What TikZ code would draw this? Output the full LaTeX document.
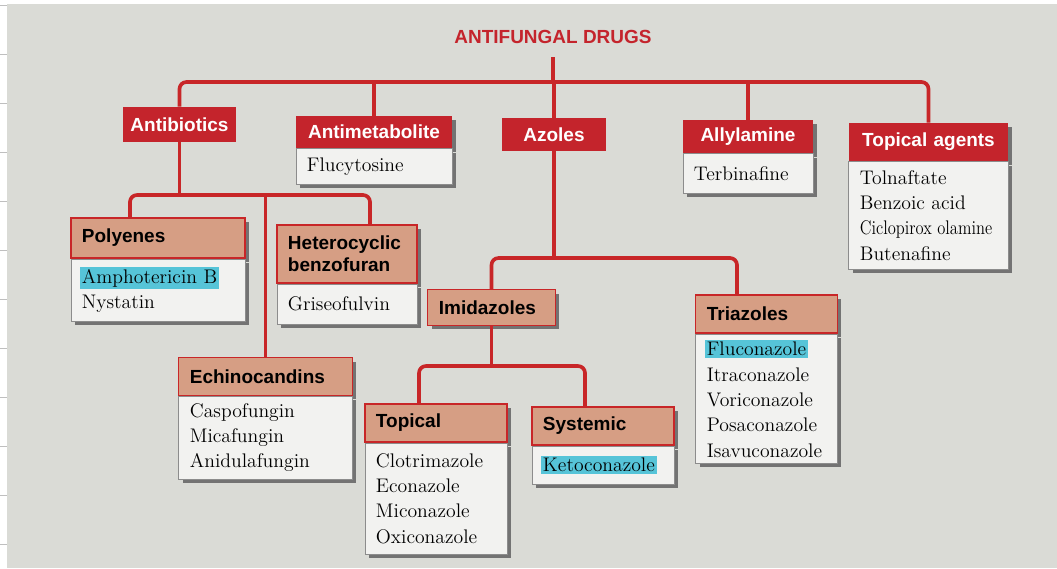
\documentclass[tikz,border=0pt]{standalone}
\usepackage{fontspec}
\setsansfont{Liberation Sans}
\usepackage{graphicx}
\usetikzlibrary{shadows}
\definecolor{paper}{RGB}{218,219,214}
\definecolor{drugred}{RGB}{196,36,44}
\definecolor{linered}{RGB}{200,38,40}
\definecolor{salmon}{RGB}{214,158,132}
\definecolor{card}{RGB}{242,242,240}
\definecolor{marker}{RGB}{86,196,216}
\newcommand{\marked}[1]{{\setlength{\fboxsep}{1.5pt}\hspace*{-1.5pt}\colorbox{marker}{#1}}}
\tikzset{ %inner sep = 0,
  {tree/.style} ={draw=linered,line width=2.6pt,rounded corners=5pt},
  {heading/.style} ={text=drugred,font=\sffamily\bfseries\fontsize{13.5}{15}\selectfont},
  {group/.style} ={fill=drugred,text=white,inner sep=0,
                  font=\sffamily\bfseries\fontsize{13.5}{15.5}\selectfont},
  {cast/.style} ={drop shadow={shadow xshift=0.1cm,shadow yshift=-0.1cm,
                  fill=black!55,opacity=1}},
  {head/.style} ={group,cast,inner xsep=0.275cm,align=center},
  {class/.style} ={head,fill=salmon,text=black,draw=linered,line width=.8pt,
                  align=left},
  {drugs/.style} ={cast,fill=card,draw=black!45,line width=.6pt,anchor=north,
                  inner xsep=0.275cm,inner ysep=0,align=left,
                  font=\fontsize{14}{18}\selectfont},
}

\begin{document}
\begin{tikzpicture}[x=0.025cm,y=-0.025cm]
\useasboundingbox (0,0) rectangle (1057,568);
% page
\fill[white] (0,0) rectangle (1057,568);
\fill[paper] (7,4) rectangle (1057,568);
\foreach \y in {5,54,...,546}
  \draw[black!25,line width=.6pt] (0,\y) -- (7,\y);

\node[heading] (title) at (553,37) {ANTIFUNGAL DRUGS};

\node[group,minimum width=2.83cm,minimum height=0.88cm] (antibio) at (179.5,124.5) {Antibiotics};
\node[head,text width=3.35cm,minimum height=0.8cm] (antimet) at (374,132) {Antimetabolite};
\node[drugs,text width=3.35cm,minimum height=0.88cm] (antimetD) at (antimet.south) {Flucytosine};
\node[group,minimum width=2.58cm,minimum height=0.83cm] (azoles) at (554,134.5) {Azoles};
\node[head,text width=2.7cm,minimum height=0.83cm] (allyl) at (748,136.5) {Allylamine};
\node[drugs,text width=2.7cm,minimum height=0.98cm] (allylD) at (allyl.south) {Terbinafine};
\node[head,text width=3.43cm,minimum height=0.95cm] (topag) at (928.5,142) {Topical agents};
\node[drugs,text width=3.43cm,minimum height=2.68cm] (topagD) at (topag.south)
  {Tolnaftate\\Benzoic acid\\\scalebox{0.84}[1]{Ciclopirox olamine}\\Butenafine};

\node[class,text width=3.8cm,minimum height=1.0cm] (poly) at (158,238) {Polyenes};
\node[drugs,text width=3.8cm,minimum height=1.55cm] (polyD) at (poly.south) {\marked{Amphotericin B}\\Nystatin};
\node[class,text width=2.95cm,minimum height=1.45cm] (hetero) at (347,254) {Heterocyclic\\benzofuran};
\node[drugs,text width=2.95cm,minimum height=1.0cm] (heteroD) at (hetero.south) {Griseofulvin};
\node[class,text width=3.78cm,minimum height=0.93cm] (echino) at (265.5,376.5) {Echinocandins};
\node[drugs,text width=3.78cm,minimum height=2.08cm] (echinoD) at (echino.south) {Caspofungin\\Micafungin\\Anidulafungin};

\node[class,text width=2.63cm,minimum height=0.88cm] (imid) at (491.5,307.5) {Imidazoles};
\node[class,text width=2.98cm,minimum height=0.95cm] (tria) at (766.5,314) {Triazoles};
\node[drugs,text width=2.98cm,minimum height=3.23cm] (triaD) at (tria.south)
  {\marked{Fluconazole}\\Itraconazole\\Voriconazole\\Posaconazole\\Isavuconazole};
\node[class,text width=3.0cm,minimum height=0.95cm] (topi) at (436,423) {Topical};
\node[drugs,text width=3.0cm,minimum height=2.78cm] (topiD) at (topi.south) {Clotrimazole\\Econazole\\Miconazole\\Oxiconazole};
\node[class,text width=3.0cm,minimum height=0.95cm] (syst) at (603,426) {Systemic};
\node[drugs,text width=3.0cm,minimum height=0.95cm] (systD) at (syst.south) {\marked{Ketoconazole}};

% branch points
\coordinate (mainbar) at (553,82);
\coordinate (abbar) at (174,195);
\coordinate (polyX) at (130,0);
\coordinate (heteroX) at (370,0);
\coordinate (azbar) at (554,258);
\coordinate (triaX) at (737,0);
\coordinate (imbar) at (491,366);
\coordinate (topiX) at (419,0);
\coordinate (systX) at (585,0);

\draw[tree,shorten <=6pt] (title.south) -- (title.south |- mainbar);
\draw[tree] (antibio.north) |- (mainbar) -| (topag.north);
\draw[tree] (antimet.north) -- (antimet.north |- mainbar);
\draw[tree] (azoles.north) -- (azoles.north |- mainbar);
\draw[tree] (allyl.north) -- (allyl.north |- mainbar);

\draw[tree] (antibio.south) -- (antibio.south |- abbar);
\draw[tree] (poly.north -| polyX) |- (abbar) -| (hetero.north -| heteroX);
\draw[tree] (echino.north) -- (echino.north |- abbar);

\draw[tree] (azoles.south) -- (azoles.south |- azbar);
\draw[tree] (imid.north) |- (azbar) -| (tria.north -| triaX);
\draw[tree] (imid.south) -- (imid.south |- imbar);
\draw[tree] (topi.north -| topiX) |- (imbar) -| (syst.north -| systX);
\end{tikzpicture}
\end{document}
